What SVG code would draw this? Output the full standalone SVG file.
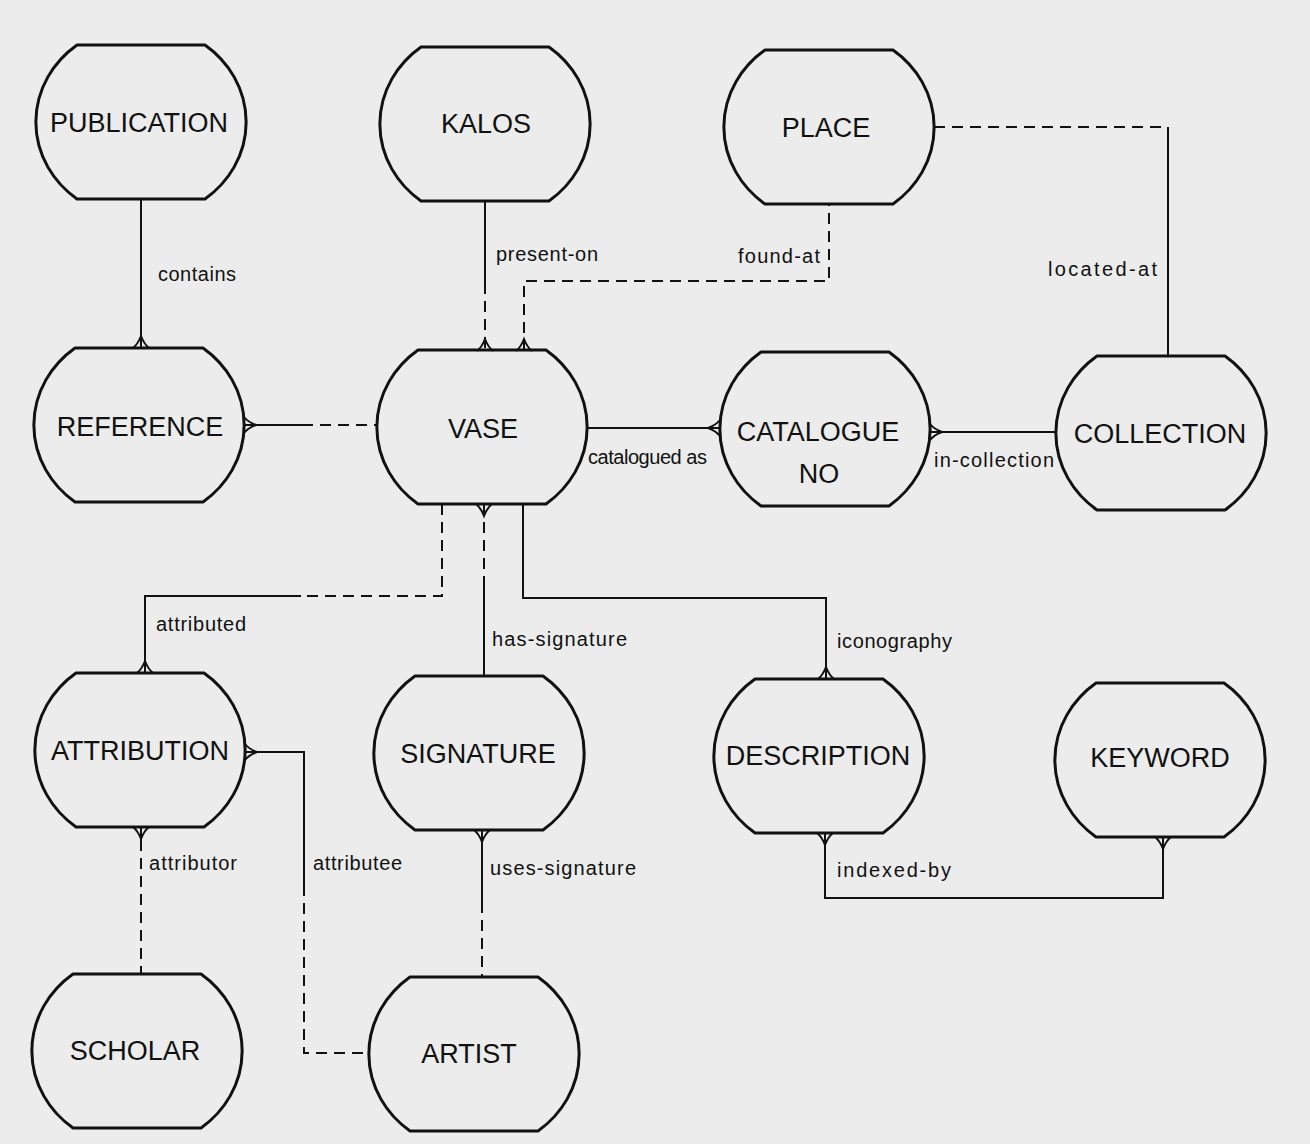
<svg xmlns="http://www.w3.org/2000/svg" xmlns:xlink="http://www.w3.org/1999/xlink" width="1310" height="1144" viewBox="0 0 1310 1144">
<style>
.ent{fill:none;stroke:#111;stroke-width:3;stroke-linejoin:round}
.name{font-family:"Liberation Sans",Arial,sans-serif;font-size:27px;fill:#111;text-anchor:middle}
.lbl{font-family:"Liberation Sans",Arial,sans-serif;font-size:20px;fill:#111}
.s{fill:none;stroke:#111;stroke-width:2}
.d{fill:none;stroke:#111;stroke-width:2;stroke-dasharray:11 7}
.cf{fill:none;stroke:#111;stroke-width:2;stroke-linejoin:miter}
</style>
<defs>
<path id="shape" d="M-64,-77 H64 A105 97 0 0 1 64,77 H-64 A105 97 0 0 1 -64,-77 Z"/>
<path id="foot" d="M-8,0 Q-3,-4 0,-12 Q3,-4 8,0"/>
</defs>
<rect width="1310" height="1144" fill="#ececec"/>

<g id="connectors">
  <!-- contains -->
  <path class="s" d="M141,198 V348"/>
  <use xlink:href="#foot" href="#foot" class="cf" transform="translate(141,348)"/>
  <text class="lbl" x="158" y="281" textLength="78">contains</text>
  <!-- present-on -->
  <path class="s" d="M485,200 V283"/>
  <path class="d" d="M485,283 V351"/>
  <use xlink:href="#foot" href="#foot" class="cf" transform="translate(485,351)"/>
  <text class="lbl" x="496" y="261" textLength="102">present-on</text>
  <!-- found-at -->
  <path class="d" d="M524,351 V281 H829 V203"/>
  <use xlink:href="#foot" href="#foot" class="cf" transform="translate(524,351)"/>
  <text class="lbl" x="738" y="263" textLength="82">found-at</text>
  <!-- located-at -->
  <path class="d" d="M934,127 H1168"/>
  <path class="s" d="M1168,127 V356"/>
  <text class="lbl" x="1048" y="276" textLength="109">located-at</text>
  <!-- catalogued as -->
  <path class="s" d="M587,428 H720"/>
  <use xlink:href="#foot" href="#foot" class="cf" transform="translate(720,428) rotate(-90)"/>
  <text class="lbl" x="588" y="464" textLength="119">catalogued as</text>
  <!-- in-collection -->
  <path class="s" d="M930,432 H1056"/>
  <use xlink:href="#foot" href="#foot" class="cf" transform="translate(930,432) rotate(90)"/>
  <text class="lbl" x="934" y="467" textLength="120">in-collection</text>
  <!-- reference - vase -->
  <path class="s" d="M244,425 H302"/>
  <path class="d" d="M302,425 H377"/>
  <use xlink:href="#foot" href="#foot" class="cf" transform="translate(244,425) rotate(90)"/>
  <!-- attributed -->
  <path class="d" d="M442,504 V596 H301"/>
  <path class="s" d="M301,596 H145 V673"/>
  <use xlink:href="#foot" href="#foot" class="cf" transform="translate(145,673)"/>
  <text class="lbl" x="156" y="631" textLength="90">attributed</text>
  <!-- has-signature -->
  <path class="d" d="M484,504 V580"/>
  <path class="s" d="M484,580 V676"/>
  <use xlink:href="#foot" href="#foot" class="cf" transform="translate(484,504) rotate(180)"/>
  <text class="lbl" x="492" y="646" textLength="135">has-signature</text>
  <!-- iconography -->
  <path class="s" d="M523,504 V598 H826 V679"/>
  <use xlink:href="#foot" href="#foot" class="cf" transform="translate(826,679)"/>
  <text class="lbl" x="837" y="648" textLength="115">iconography</text>
  <!-- attributee -->
  <path class="s" d="M245,752 H304 V885"/>
  <path class="d" d="M304,885 V1053 H369"/>
  <use xlink:href="#foot" href="#foot" class="cf" transform="translate(245,752) rotate(90)"/>
  <text class="lbl" x="313" y="870" textLength="89">attributee</text>
  <!-- attributor -->
  <path class="s" d="M141,827 V840"/>
  <path class="d" d="M141,840 V974"/>
  <use xlink:href="#foot" href="#foot" class="cf" transform="translate(141,827) rotate(180)"/>
  <text class="lbl" x="149" y="870" textLength="88">attributor</text>
  <!-- uses-signature -->
  <path class="s" d="M482,830 V902"/>
  <path class="d" d="M482,902 V977"/>
  <use xlink:href="#foot" href="#foot" class="cf" transform="translate(482,830) rotate(180)"/>
  <text class="lbl" x="490" y="875" textLength="146">uses-signature</text>
  <!-- indexed-by -->
  <path class="s" d="M825,833 V898 H1163 V837"/>
  <use xlink:href="#foot" href="#foot" class="cf" transform="translate(825,833) rotate(180)"/>
  <use xlink:href="#foot" href="#foot" class="cf" transform="translate(1163,837) rotate(180)"/>
  <text class="lbl" x="837" y="877" textLength="114">indexed-by</text>
</g>

<g id="publication"><use xlink:href="#shape" href="#shape" class="ent" transform="translate(141,122)"/><text class="name" x="139" y="132">PUBLICATION</text></g>
<g id="kalos"><use xlink:href="#shape" href="#shape" class="ent" transform="translate(485,124)"/><text class="name" x="486" y="133">KALOS</text></g>
<g id="place"><use xlink:href="#shape" href="#shape" class="ent" transform="translate(829,127)"/><text class="name" x="826" y="137">PLACE</text></g>
<g id="reference"><use xlink:href="#shape" href="#shape" class="ent" transform="translate(139,425)"/><text class="name" x="140" y="436">REFERENCE</text></g>
<g id="vase"><use xlink:href="#shape" href="#shape" class="ent" transform="translate(482,427)"/><text class="name" x="483" y="438">VASE</text></g>
<g id="catalogue-no"><use xlink:href="#shape" href="#shape" class="ent" transform="translate(825,429)"/><text class="name" x="818" y="441">CATALOGUE</text><text class="name" x="819" y="483">NO</text></g>
<g id="collection"><use xlink:href="#shape" href="#shape" class="ent" transform="translate(1161,433)"/><text class="name" x="1160" y="443">COLLECTION</text></g>
<g id="attribution"><use xlink:href="#shape" href="#shape" class="ent" transform="translate(140,750)"/><text class="name" x="140" y="760">ATTRIBUTION</text></g>
<g id="signature"><use xlink:href="#shape" href="#shape" class="ent" transform="translate(479,753)"/><text class="name" x="478" y="763">SIGNATURE</text></g>
<g id="description"><use xlink:href="#shape" href="#shape" class="ent" transform="translate(819,756)"/><text class="name" x="818" y="765">DESCRIPTION</text></g>
<g id="keyword"><use xlink:href="#shape" href="#shape" class="ent" transform="translate(1160,760)"/><text class="name" x="1160" y="767">KEYWORD</text></g>
<g id="scholar"><use xlink:href="#shape" href="#shape" class="ent" transform="translate(137,1051)"/><text class="name" x="135" y="1060">SCHOLAR</text></g>
<g id="artist"><use xlink:href="#shape" href="#shape" class="ent" transform="translate(474,1054)"/><text class="name" x="469" y="1063">ARTIST</text></g>
</svg>
